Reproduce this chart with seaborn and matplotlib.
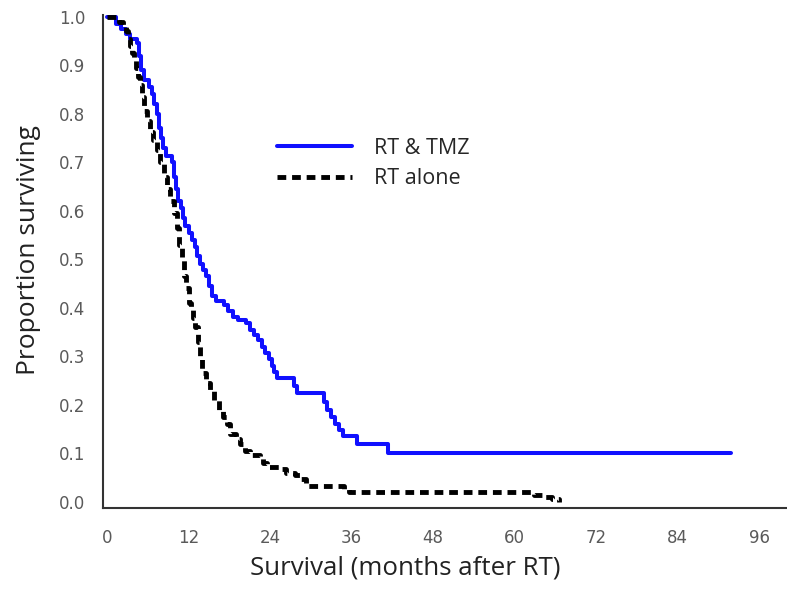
import numpy as np
import pandas as pd
import matplotlib
matplotlib.use("Agg")
import matplotlib.pyplot as plt
import seaborn as sns

# RT & TMZ (Kaplan-Meier steps: time in months, survival after step)
tmz_time = [0, 1.3, 2.0, 2.7, 3.4, 4.4, 4.7, 5.0, 5.35, 6.1, 6.6, 6.9, 7.3, 7.6, 7.9,
            8.2, 8.6, 9.5, 9.8, 10.1, 10.5, 10.8, 11.1, 11.4, 12.1, 12.5, 12.9, 13.3,
            13.7, 14.1, 14.6, 15.0, 15.4, 16.0, 17.2, 17.8, 18.6, 19.3, 20.4, 21.0,
            21.6, 22.2, 22.8, 23.3, 23.8, 24.3, 24.6, 25.0, 27.5, 28.0, 32.0, 32.4,
            33.0, 33.6, 34.2, 34.7, 36.8, 41.4, 91.8]
tmz_surv = [1.0, 0.985, 0.975, 0.965, 0.955, 0.945, 0.92, 0.89, 0.87, 0.855, 0.84,
            0.82, 0.80, 0.77, 0.75, 0.73, 0.712, 0.70, 0.67, 0.645, 0.62, 0.605, 0.585,
            0.568, 0.555, 0.54, 0.525, 0.507, 0.49, 0.478, 0.465, 0.445, 0.425, 0.415,
            0.405, 0.393, 0.382, 0.375, 0.368, 0.355, 0.343, 0.333, 0.32, 0.307, 0.295,
            0.28, 0.268, 0.255, 0.238, 0.225, 0.205, 0.19, 0.175, 0.16, 0.148, 0.135,
            0.12, 0.10, 0.10]

# RT alone
rt_time = [0, 1.8, 2.3, 2.7, 3.0, 3.3, 3.6, 3.9, 4.2, 4.5, 4.8, 5.1, 5.4, 5.8, 6.3,
           6.8, 7.3, 7.8, 8.3, 8.8, 9.3, 9.8, 10.3, 10.6, 11.0, 11.3, 11.6, 12.0, 12.3,
           12.7, 13.0, 13.4, 13.7, 13.9, 14.5, 15.2, 15.8, 16.5, 17.1, 17.6, 18.1,
           19.0, 19.6, 20.3, 21.0, 22.5, 23.0, 23.6, 25.3, 26.3, 27.6, 28.6, 29.3,
           34.8, 35.6, 62.8, 64.0, 65.5, 66.5]
rt_surv = [1.0, 0.99, 0.98, 0.97, 0.955, 0.94, 0.925, 0.91, 0.895, 0.875, 0.86, 0.835,
           0.805, 0.785, 0.762, 0.745, 0.725, 0.70, 0.67, 0.645, 0.62, 0.595, 0.565,
           0.53, 0.498, 0.465, 0.44, 0.41, 0.395, 0.38, 0.36, 0.33, 0.30, 0.265, 0.245,
           0.23, 0.21, 0.19, 0.175, 0.16, 0.14, 0.13, 0.12, 0.105, 0.097, 0.09, 0.08,
           0.072, 0.068, 0.06, 0.055, 0.048, 0.033, 0.027, 0.021, 0.015, 0.01, 0.005,
           0.0]

group_labels = ["RT & TMZ", "RT alone"]
x_ticks = [0, 12, 24, 36, 48, 60, 72, 84, 96]
y_ticks = [0.0, 0.1, 0.2, 0.3, 0.4, 0.5, 0.6, 0.7, 0.8, 0.9, 1.0]

df = pd.concat([
    pd.DataFrame({"time": tmz_time, "surv": tmz_surv, "group": group_labels[0]}),
    pd.DataFrame({"time": rt_time, "surv": rt_surv, "group": group_labels[1]}),
], ignore_index=True)

sns.set_style("white")
plt.rcParams["font.family"] = ["Open Sans", "DejaVu Sans"]

fig = plt.figure(figsize=(7.87, 5.93), dpi=100)
ax = fig.add_axes([0.131, 0.143, 0.869, 0.832])

widths = [2.9, 3.5]
sns.lineplot(data=df, x="time", y="surv", hue="group", style="group",
             palette={group_labels[0]: "#1010ff", group_labels[1]: "black"},
             dashes={group_labels[0]: "", group_labels[1]: (1.8, 1.2)},
             estimator=None, sort=False, drawstyle="steps-post", ax=ax)
for line, lw in zip(ax.lines[:2], widths):
    line.set_linewidth(lw)
    line.set_dash_capstyle("butt")

ax.set_xlim(-0.6, 100.1)
ax.set_ylim(-0.013, 1.004)
ax.set_xticks(x_ticks)
ax.set_xticklabels([str(v) for v in x_ticks])
ax.set_yticks(y_ticks)
ax.set_yticklabels([f"{v:.1f}" for v in y_ticks])
ax.set_xticks(np.arange(6, 100, 12), minor=True)
ax.set_yticks(np.arange(0.05, 1.0, 0.1), minor=True)

for s in ["top", "right"]:
    ax.spines[s].set_visible(False)
for s in ["left", "bottom"]:
    ax.spines[s].set_color("#333333")
    ax.spines[s].set_linewidth(1.5)

ax.tick_params(axis="both", which="major", direction="out", length=6, width=1.3,
               color="#333333", labelcolor="#5a5a5a", labelsize=12)
ax.tick_params(axis="y", which="major", pad=7)
ax.tick_params(axis="x", which="major", pad=9)
ax.tick_params(axis="both", which="minor", direction="out", length=3, width=1.2,
               color="#333333")
for lab in ax.get_xticklabels() + ax.get_yticklabels():
    lab.set_family(["DejaVu Sans"])

ax.set_xlabel("Survival (months after RT)", fontsize=18.6, color="#222222", labelpad=6)
ax.set_ylabel("Proportion surviving", fontsize=19, color="#222222", labelpad=13)
ax.xaxis.label.set_x(0.4415)
ax.yaxis.label.set_y(0.523)

leg = ax.legend(loc="upper left", bbox_to_anchor=(0.226, 0.79), frameon=False,
                fontsize=15.5, handlelength=3.5, handletextpad=1.0, labelspacing=0.45)
for h, lw in zip(leg.get_lines(), widths):
    h.set_linewidth(lw)
    h.set_dash_capstyle("butt")

fig.savefig("out.png", dpi=100)
